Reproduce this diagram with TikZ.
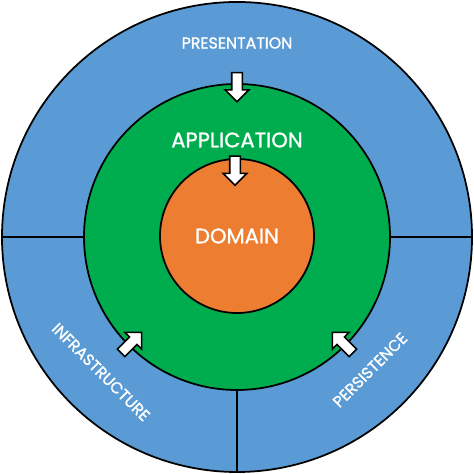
\documentclass[tikz,border=0pt]{standalone}
\usepackage{fontspec}
\setmainfont{Poppins}
\newfontfamily\layerfont{Poppins}[FakeBold=1.2]
\usetikzlibrary{shapes.arrows}
\definecolor{layerblue}{HTML}{5B9BD5}
\definecolor{appgreen}{HTML}{00AD4E}
\definecolor{domorange}{HTML}{ED7D31}

\begin{document}
\begin{tikzpicture}[ring/.style={circle, draw, line width=1pt, inner sep=0pt}, lbl/.style={text=white, font=\layerfont\fontsize{9}{9}\selectfont}, big/.style={text=white, font=\layerfont\fontsize{12}{12}\selectfont}, inarrow/.style={single arrow, draw, fill=white, line width=0.9pt, inner sep=0.09cm, single arrow head extend=0.13cm, minimum height=0.58cm}]
		\useasboundingbox (-4.74,-4.74) rectangle (4.74,4.74);
		\node[ring, fill=layerblue, minimum size=9.4cm] (P) at (0,0) {};
		\node[ring, fill=appgreen, minimum size=6.12cm] (A) at (0,0) {};
		\node[ring, fill=domorange, minimum size=3.08cm, big] (D) at (0,0.02) {DOMAIN};

		\draw[line width=1pt] (P.west) -- (A.west);
		\draw[line width=1pt] (A.east) -- (P.east);
		\draw[line width=1pt] (A.south) -- (P.south);

		\node[lbl] (P_label) at (0,3.88) {PRESENTATION};
		\node[big] (A_label) at (0,1.94) {APPLICATION};
		\node[lbl, rotate=-45] (I_label) at (-2.72,-2.7) {INFRASTRUCTURE};
		\node[lbl, rotate=45] (S_label) at (2.66,-2.66) {PERSISTENCE};

		\node[inarrow, rotate=-90] (a1) at (0,3.05) {};
		\node[inarrow, rotate=-90] (a2) at (-0.04,1.38) {};
		\node[inarrow, rotate=45] (a3) at (225:3.04) {};
		\node[inarrow, rotate=135] (a4) at (315:3.04) {};
	\end{tikzpicture}
\end{document}
